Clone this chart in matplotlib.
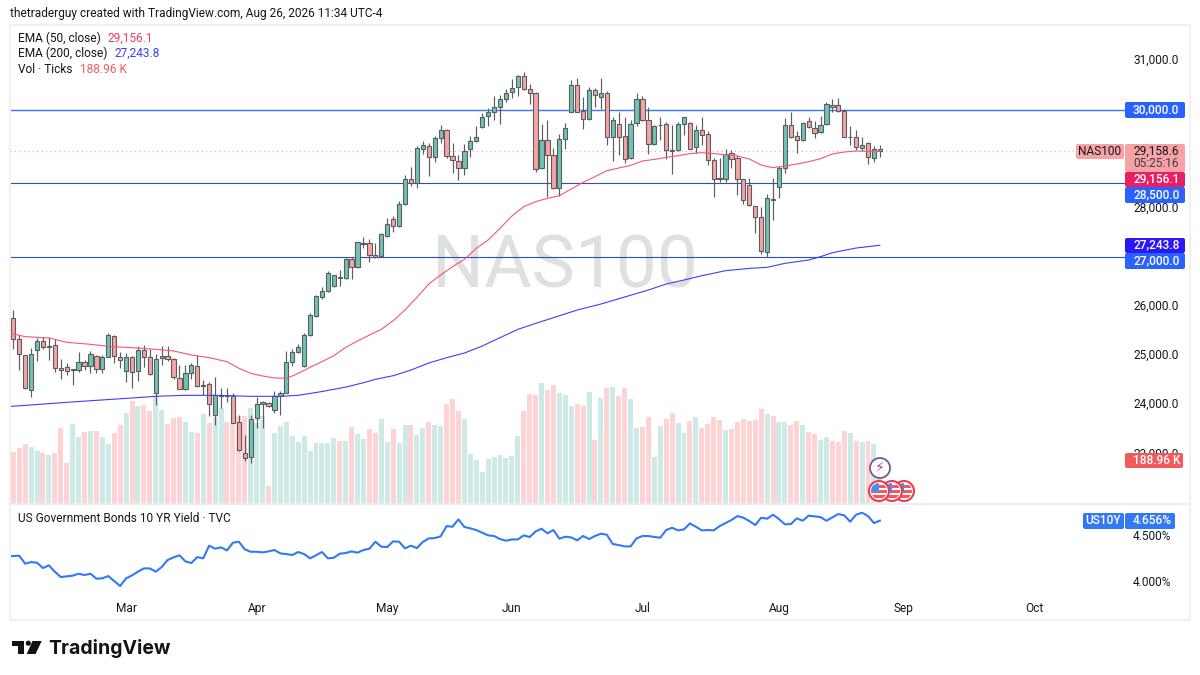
import matplotlib
matplotlib.use('Agg')
import matplotlib.pyplot as plt
from matplotlib.patches import Circle, FancyBboxPatch, Polygon, Rectangle
from matplotlib.transforms import IdentityTransform, ScaledTranslation

plt.rcParams['font.family'] = ['Roboto', 'DejaVu Sans']

opens = [25772, 25332, 25006, 24302, 25122, 25291, 25176, 25210, 24749, 24762,
         24708, 24708, 24878, 24783, 24986, 24735, 24973, 25393, 24966, 24695,
         24966, 24681, 25108, 24966, 24247, 24952, 24986, 24932, 24539, 24315,
         24640, 24783, 24383, 24417, 23787, 24186, 24193, 24173, 23651, 23021,
         22946, 23726, 24017, 24037, 23888, 24186, 24247, 24877, 25073, 24782,
         25412, 25812, 26198, 26307, 26415, 26605, 26571, 26957, 26795, 27276,
         27283, 27052, 27032, 27425, 27777, 27628, 28076, 28597, 28516, 29194,
         29268, 29031, 29417, 29580, 29058, 28963, 28807, 29194, 29356, 29641,
         29871, 29960, 30048, 30224, 30366, 30461, 30678, 30414, 30332, 28807,
         29390, 29079, 28414, 29404, 29953, 30495, 29980, 29817, 30400, 30251,
         30332, 29438, 29716, 29458, 29024, 29722, 30210, 29783, 29302, 29682,
         29716, 29180, 29173, 29716, 29729, 29234, 29580, 29505, 28970, 28611,
         28597, 29126, 29011, 28584, 28462, 28035, 27811, 27113, 28184, 28428,
         28807, 29695, 29472, 29377, 29763, 29634, 29539, 29702, 30088, 30088,
         29980, 29438, 29451, 29214, 29316, 29024, 29207]
highs = [25928, 25420, 25012, 25149, 25352, 25386, 25386, 25345, 24939, 24857,
         24722, 25067, 24912, 25101, 25013, 25006, 25467, 25420, 25067, 25061,
         24993, 25196, 25216, 25135, 25034, 25203, 25196, 24946, 24810, 24810,
         24857, 25013, 24505, 24471, 24559, 24335, 24335, 24234, 23793, 23387,
         23793, 24166, 24085, 24064, 24281, 24281, 25095, 25128, 25236, 25453,
         25860, 26232, 26402, 26727, 26646, 26740, 26978, 27012, 27317, 27405,
         27371, 27283, 27486, 27791, 27838, 28150, 28672, 28828, 29261, 29363,
         29329, 29465, 29682, 29600, 29329, 29085, 29302, 29465, 29668, 29926,
         30027, 30278, 30298, 30414, 30624, 30705, 30759, 30522, 30353, 29709,
         29790, 29214, 29505, 29736, 30603, 30651, 30251, 30454, 30434, 30651,
         30387, 29844, 29960, 29858, 29790, 30332, 30278, 30048, 29689, 29858,
         29743, 29689, 29756, 29844, 29756, 29689, 29858, 29573, 29011, 29011,
         29194, 29180, 29079, 28584, 28604, 28035, 28028, 28286, 28604, 28855,
         29824, 29946, 29573, 29756, 29858, 29770, 29871, 30163, 30210, 30231,
         30007, 29668, 29587, 29451, 29350, 29261, 29275]
lows = [25135, 24708, 24330, 24166, 24898, 25128, 24912, 24674, 24532, 24613,
        24410, 24661, 24708, 24640, 24640, 24640, 24973, 24844, 24742, 24471,
        24335, 24485, 24762, 24607, 24003, 24817, 24891, 24532, 24315, 24302,
        24518, 24369, 24200, 23780, 23590, 23929, 24064, 23624, 23068, 22865,
        22811, 23522, 23522, 23962, 23827, 23793, 24233, 24796, 25046, 24775,
        25398, 25792, 26144, 26293, 26402, 26415, 26557, 26551, 26788, 27181,
        26897, 26978, 27025, 27418, 27513, 27621, 28069, 28448, 28401, 29099,
        28652, 28943, 29329, 29011, 28719, 28570, 28672, 29031, 29350, 29621,
        29668, 29790, 29709, 30163, 30231, 30278, 30400, 30109, 28740, 28794,
        28218, 28381, 28245, 29201, 29946, 29946, 29607, 29790, 30061, 30014,
        29282, 28963, 29079, 28909, 28990, 29675, 29770, 29092, 29275, 29384,
        28990, 28686, 29160, 29485, 29194, 29112, 29282, 28875, 28218, 28536,
        28536, 28821, 28265, 28076, 28042, 27486, 27066, 26998, 27757, 28198,
        28719, 29417, 29126, 29363, 29621, 29431, 29519, 29688, 29946, 29960,
        29438, 29282, 29180, 29167, 28889, 28943, 29031]
closes = [25332, 25027, 24335, 25027, 25291, 25169, 25189, 24749, 24708, 24681,
          24722, 24878, 24783, 25027, 24735, 24966, 25420, 24986, 24918, 24966,
          24674, 25108, 24966, 24634, 24932, 24986, 24939, 24559, 24322, 24654,
          24803, 24390, 24396, 24010, 24193, 24200, 24180, 23631, 23075, 22926,
          23719, 24024, 24064, 23969, 24186, 24247, 24878, 25080, 25182, 25419,
          25826, 26212, 26307, 26686, 26632, 26578, 26964, 26795, 27303, 27290,
          27052, 27012, 27466, 27669, 27628, 28076, 28597, 28516, 29214, 29282,
          29031, 29417, 29580, 29065, 28970, 28807, 29167, 29363, 29438, 29858,
          29953, 30048, 30217, 30332, 30448, 30678, 30414, 30332, 28787, 29377,
          29079, 28414, 29397, 29634, 30495, 29953, 29804, 30400, 30292, 30346,
          29438, 29783, 29451, 28990, 29709, 30210, 29790, 29302, 29661, 29695,
          29173, 29167, 29716, 29844, 29207, 29580, 29492, 28970, 28584, 28597,
          29106, 28997, 28584, 28157, 28055, 27811, 27134, 28211, 28170, 28821,
          29695, 29445, 29377, 29722, 29641, 29526, 29695, 30109, 30048, 29973,
          29451, 29451, 29234, 29282, 29045, 29207, 29158.6]

# volume in thousands of ticks
volumes = [231, 249, 265, 252, 234, 223, 214, 226, 339, 181,
           355, 298, 318, 325, 325, 298, 265, 313, 351, 404,
           460, 436, 441, 415, 478, 418, 355, 382, 388, 366,
           321, 316, 400, 361, 388, 427, 366, 359, 392, 392,
           427, 361, 392, 78, 313, 346, 363, 301, 274, 301,
           234, 268, 268, 268, 292, 280, 280, 343, 309, 289,
           333, 313, 378, 276, 333, 271, 351, 351, 306, 339,
           366, 351, 346, 445, 466, 415, 378, 219, 193, 139,
           198, 205, 216, 202, 211, 301, 412, 490, 486, 540,
           507, 531, 493, 486, 438, 445, 436, 498, 283, 474,
           519, 522, 482, 519, 468, 339, 342, 387, 207, 346,
           378, 403, 358, 316, 370, 387, 339, 355, 387, 373,
           328, 333, 366, 378, 369, 373, 423, 400, 391, 366,
           366, 351, 369, 351, 318, 309, 283, 297, 279, 276,
           324, 313, 279, 276, 279, 264, 188.96]

ema50_idx = [-1, 0, 2, 6, 9, 13, 16, 20, 24, 27, 30, 33, 36, 38, 40, 42, 44, 46, 47,
             48, 50, 52, 54, 56, 58, 60, 62, 64, 66, 68, 70, 72, 74, 76, 78, 80, 82,
             84, 86, 88, 90, 92, 94, 96, 98, 100, 102, 104, 106, 108, 110, 112, 114,
             116, 118, 120, 122, 124, 126, 128, 130, 132, 134, 136, 138, 140, 142,
             144, 146]
ema50_val = [25454, 25440, 25386, 25359, 25271, 25230, 25189, 25162, 25128, 25095,
             25013, 24959, 24878, 24742, 24640, 24586, 24546, 24539, 24586,
             24640, 24762, 24877, 25000, 25168, 25297, 25419, 25534, 25710, 25927,
             26185, 26456, 26639, 26808, 26957, 27181, 27350, 27588, 27838, 28028,
             28130, 28198, 28252, 28387, 28523, 28638, 28760, 28814, 28868, 28957,
             28990, 29031, 29065, 29106, 29126, 29106, 29085, 29058, 28997, 28875,
             28821, 28855, 28896, 28943, 29004, 29099, 29140, 29160, 29153, 29156.1]
ema200_idx = [-1, 3, 9, 14, 20, 24, 29, 34, 40, 45, 48, 52, 56, 59, 61, 64, 67, 70,
              73, 76, 79, 82, 85, 88, 91, 95, 99, 103, 107, 110, 113, 116, 120, 124,
              127, 130, 134, 136, 138, 142, 146]
ema200_val = [23963, 23997, 24051, 24091, 24139, 24173, 24193, 24193, 24173, 24173,
              24193, 24270, 24360, 24450, 24518, 24592, 24707, 24850, 24958, 25053,
              25195, 25365, 25534, 25656, 25771, 25927, 26049, 26192, 26334, 26456,
              26537, 26625, 26727, 26774, 26795, 26876, 26944, 27012, 27093, 27188,
              27243.8]

# starts one session before the first candle, it is cut by the pane edge
us10y = [4.268, 4.271, 4.275, 4.188, 4.206, 4.199, 4.141, 4.170, 4.101, 4.043, 4.050,
         4.058, 4.079, 4.065, 4.079, 4.025, 4.029, 4.054, 4.000, 3.945, 4.029,
         4.061, 4.101, 4.137, 4.137, 4.101, 4.152, 4.228, 4.257, 4.279, 4.213,
         4.195, 4.260, 4.246, 4.384, 4.351, 4.366, 4.333, 4.416, 4.427, 4.344,
         4.318, 4.318, 4.311, 4.322, 4.337, 4.300, 4.293, 4.282, 4.315, 4.293,
         4.246, 4.279, 4.315, 4.246, 4.253, 4.297, 4.304, 4.322, 4.308, 4.337,
         4.351, 4.427, 4.373, 4.369, 4.431, 4.427, 4.355, 4.384, 4.358, 4.424,
         4.463, 4.467, 4.485, 4.597, 4.590, 4.670, 4.587, 4.572, 4.554, 4.525,
         4.496, 4.489, 4.456, 4.438, 4.452, 4.452, 4.496, 4.478, 4.539, 4.568,
         4.518, 4.554, 4.460, 4.481, 4.474, 4.442, 4.489, 4.456, 4.489, 4.514,
         4.503, 4.402, 4.391, 4.376, 4.376, 4.463, 4.489, 4.489, 4.478, 4.471,
         4.554, 4.579, 4.550, 4.561, 4.626, 4.590, 4.550, 4.554, 4.550, 4.597,
         4.630, 4.663, 4.706, 4.688, 4.652, 4.608, 4.688, 4.677, 4.721, 4.673,
         4.616, 4.619, 4.681, 4.655, 4.710, 4.702, 4.695, 4.655, 4.692, 4.728,
         4.713, 4.645, 4.721, 4.742, 4.706, 4.630, 4.656]

levels = [28500, 27000]
top_level = 30000
last_price = 29158.6
# 27,000 29,000 and 30,000 sit under the coloured tags
price_ticks = [23000, 24000, 25000, 26000, 28000, 31000]
yield_ticks = [4.0, 4.5]
month_pos = [19, 41, 63, 84, 106, 129, 150, 172]
month_names = ['Mar', 'Apr', 'May', 'Jun', 'Jul', 'Aug', 'Sep', 'Oct']

GREEN = '#6cc4b5'
RED = '#f7a3a6'
EDGE = '#5c5c5c'
TEXT = '#131722'
W, H = 1200, 675


def axes_px(x0, y0, x1, y1):
    return [x0 / W, 1 - y1 / H, (x1 - x0) / W, (y1 - y0) / H]


def label(fig, x, y, s, color=TEXT, size=8.6, **kw):
    kw.setdefault('va', 'center')
    fig.text(x / W, 1 - y / H, s, color=color, fontsize=size, zorder=8, **kw)


def pixel_box(fig, x0, y0, x1, y1, color):
    fig.add_artist(FancyBboxPatch((x0, H - y1), x1 - x0, y1 - y0,
                                  boxstyle='round,pad=0,rounding_size=2',
                                  fc=color, ec='none', zorder=6,
                                  transform=IdentityTransform()))


def flag_icon(fig, cx, cy):
    cy = H - cy
    tr = IdentityTransform()
    ring = Circle((cx, cy), 10, fc='white', ec='#ee3b52', lw=1.5, zorder=6, transform=tr)
    fig.add_artist(ring)
    inner = Circle((cx, cy), 8, transform=tr)
    stripes = [Rectangle((cx - 8, cy + dy), 16, 2.3, fc='#ef5a5e', ec='none', zorder=6, transform=tr)
               for dy in (-6.5, -1.5, 3.5)]
    stripes.append(Rectangle((cx - 8, cy - 1), 8, 9, fc='#4b8ef0', ec='none', zorder=6, transform=tr))
    for s in stripes:
        fig.add_artist(s)
        s.set_clip_path(inner)


fig = plt.figure(figsize=(12, 6.75), dpi=100)
xlim = (-0.556, 187.3)

ax = fig.add_axes(axes_px(10, 25, 1125, 503))
ax_vol = ax.twinx()
ax_vol.set_zorder(0)
ax.set_zorder(1)
ax.patch.set_visible(False)

idx = list(range(len(closes)))
up = [c >= o for o, c in zip(opens, closes)]

ax_vol.bar(idx, volumes, width=0.84, color=['#cdeae7' if u else '#fed3d4' for u in up])
ax_vol.set_ylim(0, 2151)
ax_vol.set_yticks([])
ax_vol.text(93, 0.492, 'NAS100', transform=ax_vol.get_xaxis_transform(), fontsize=52.5,
            color='#dfe0e2', ha='center', va='center')

ax.vlines(idx, lows, highs, color=EDGE, lw=0.85, zorder=2)
ax.bar(idx, [abs(c - o) for o, c in zip(opens, closes)], bottom=[min(o, c) for o, c in zip(opens, closes)],
       width=0.72, color=[GREEN if u else RED for u in up], edgecolor=EDGE, linewidth=0.8, zorder=3)

ax.plot(ema50_idx, ema50_val, color='#f2567a', lw=0.8, zorder=4)
ax.plot(ema200_idx, ema200_val, color='#3f3ff5', lw=0.8, zorder=4)
ax.hlines(top_level, xlim[0], xlim[1], color='#3f72ee', lw=1.0, zorder=1)
ax.hlines(levels, xlim[0], xlim[1], color='#2a50b8', lw=0.8, zorder=1)
ax.hlines(last_price, xlim[0], 179.5, color='#f7a3a6', lw=0.8, linestyles=(0, (1, 3)), zorder=1)

ax.set_xlim(xlim)
ax.set_ylim(22004, 31722)
ax.set_xticks([])
ax.yaxis.tick_right()
ax.set_yticks(price_ticks)
ax.set_yticklabels([f'{v:,.1f}' for v in price_ticks])
ax.tick_params(axis='y', length=0, pad=5.8, labelsize=8.6, labelcolor=TEXT)
# the comma pulls centre_baseline down a little
for t in ax.get_yticklabels():
    t.set_transform(t.get_transform() + ScaledTranslation(0, 1.6 / 100, fig.dpi_scale_trans))

ax_y = fig.add_axes(axes_px(10, 504, 1125, 596))
ax_y.plot(range(-1, len(us10y) - 1), us10y, color='#3179f5', lw=1.5)
ax_y.set_xlim(xlim)
ax_y.set_ylim(3.837, 4.837)
ax_y.yaxis.tick_right()
ax_y.set_yticks(yield_ticks)
ax_y.set_yticklabels([f'{v:.3f}%' for v in yield_ticks])
ax_y.set_xticks(month_pos)
ax_y.set_xticklabels(month_names)
ax_y.tick_params(axis='both', length=0, labelsize=8.6, labelcolor=TEXT)
ax_y.tick_params(axis='y', pad=5.8)
ax_y.tick_params(axis='x', pad=4.3)
for a in (ax, ax_vol, ax_y):
    for sp in a.spines.values():
        sp.set_visible(False)

# outer frame and pane divider
fig.add_artist(Rectangle((10 / W, 1 - 620 / H), 1180 / W, 595 / H, fc='none', ec='#f0f1f3', lw=1.5,
                         transform=fig.transFigure, zorder=5))
fig.add_artist(plt.Line2D([10 / W, 1190 / W], [1 - 503.5 / H] * 2, color='#e8e9eb', lw=1.2, zorder=5))

# header and legend
label(fig, 10, 13.5, 'thetraderguy created with TradingView.com, Aug 26, 2026 11:34 UTC-4', size=8.55)
label(fig, 18, 38.5, 'EMA (50, close)', size=8.55)
label(fig, 108, 38.5, '29,156.1', color='#f23f5d', size=8.55)
label(fig, 18, 53.5, 'EMA (200, close)', size=8.55)
label(fig, 114.5, 53.5, '27,243.8', color='#3f3ff5', size=8.55)
label(fig, 18, 69.5, 'Vol · Ticks', size=8.55)
label(fig, 80.5, 69.5, '188.96 K', color='#f15b5e', size=8.55)
label(fig, 18, 518, 'US Government Bonds 10 YR Yield · TVC', size=8.55)

# price scale tags
for y0, y1, col, s in [(102, 118, '#2962ff', '30,000.0'), (172, 187, '#e91e63', '29,156.1'),
                       (187, 203, '#2962ff', '28,500.0'), (238, 253, '#2b18f5', '27,243.8'),
                       (253, 269, '#2962ff', '27,000.0')]:
    pixel_box(fig, 1125, y0, 1185, y1, col)
    label(fig, 1133, (y0 + y1) / 2 - 0.3, s, color='white', weight='medium')
pixel_box(fig, 1076, 144, 1124, 159, '#f7a3a6')
label(fig, 1100, 151.5, 'NAS100', ha='center')
pixel_box(fig, 1125, 144, 1185, 172, '#f7a3a6')
label(fig, 1133, 151, '29,158.6')
label(fig, 1133, 163.5, '05:25:16', color='#3a3d45')
pixel_box(fig, 1125, 453, 1183, 468, '#f15b5e')
label(fig, 1133, 460.5, '188.96 K', color='white', weight='medium')
pixel_box(fig, 1083, 513, 1124, 529, '#3179f5')
label(fig, 1103.5, 521, 'US10Y', color='white', ha='center', weight='medium')
pixel_box(fig, 1125, 513, 1175, 529, '#3179f5')
label(fig, 1133, 521, '4.656%', color='white', weight='medium')

# event icons on the last candle
for cx in (904, 892, 879):
    flag_icon(fig, cx, 491)
fig.add_artist(Circle((880, H - 468), 10, fc='white', ec='#75588f', lw=1.3, zorder=6,
                      transform=IdentityTransform()))
label(fig, 880, 468, '⚡', color='#c2378a', size=10, ha='center', family='DejaVu Sans')

# logo
tr = IdentityTransform()
fig.add_artist(Polygon([(12.3, H - 641), (24, H - 641), (24, H - 654), (18.3, H - 654), (18.3, H - 646), (12.3, H - 646)],
                       fc='#131313', ec='none', transform=tr, zorder=6))
fig.add_artist(Circle((28.3, H - 643.2), 2.6, fc='#131313', ec='none', transform=tr, zorder=6))
fig.add_artist(Polygon([(32.5, H - 641), (41.7, H - 641), (35.6, H - 654), (26.7, H - 654)],
                       fc='#131313', ec='none', transform=tr, zorder=6))
label(fig, 48.5, 648, 'TradingView', color='#131313', size=14, weight='bold', family='Inter')

fig.savefig('out.png', dpi=100, facecolor='white')
